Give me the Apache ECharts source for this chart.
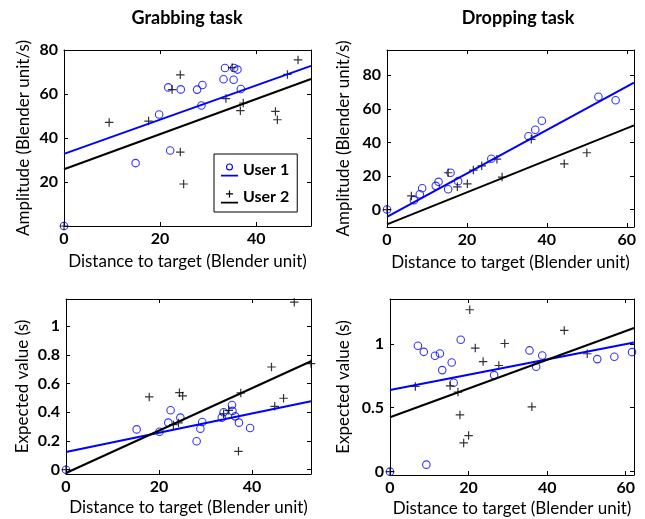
<!DOCTYPE html>
<html>
<head>
<meta charset="utf-8">
<script src="https://cdn.jsdelivr.net/npm/echarts@6/dist/echarts.min.js"></script>
<style>
html,body{margin:0;padding:0;background:#fff;}
#chart{width:645px;height:519px;}
</style>
</head>
<body>
<div id="chart"></div>
<script>
// ---------- Data ----------
// Panel A: Grabbing task, amplitude
const grabAmpU1X = [0, 14.9, 19.8, 21.7, 22.1, 24.3, 27.7, 28.8, 28.6, 33.2, 33.5, 35.3, 35.4, 36.1, 36.8];
const grabAmpU1Y = [0, 28.6, 50.7, 63.0, 34.3, 62.1, 62.0, 64.1, 54.8, 66.7, 71.8, 66.5, 71.8, 71.1, 62.3];
const grabAmpU2X = [0, 9.4, 17.6, 22.5, 24.2, 24.2, 24.9, 33.7, 35.0, 36.7, 37.3, 44.0, 44.4, 46.5, 48.7];
const grabAmpU2Y = [0, 47.1, 47.7, 62.0, 68.7, 33.6, 19.1, 57.9, 72.0, 52.4, 55.9, 52.1, 48.3, 68.9, 75.5];
const grabAmpFitU1 = [[0, 32.8], [51.4, 72.8]];
const grabAmpFitU2 = [[0, 25.8], [51.4, 66.8]];

// Panel B: Dropping task, amplitude
const dropAmpU1X = [0, 6.75, 8.2, 8.8, 12.2, 12.9, 15.3, 15.9, 17.8, 26.1, 35.4, 37.1, 38.75, 52.9, 57.2];
const dropAmpU1Y = [0, 5.6, 9.1, 12.7, 14.1, 16.5, 12.1, 21.9, 16.9, 30.2, 43.6, 47.5, 52.9, 67.2, 65.1];
const dropAmpU2X = [0, 6.1, 15.3, 17.6, 20.1, 21.6, 23.7, 27.5, 28.8, 36.1, 44.35, 50.0];
const dropAmpU2Y = [0, 8.1, 21.9, 13.5, 15.3, 23.5, 26.0, 30.0, 19.3, 41.8, 27.2, 33.8];
const dropAmpFitU1 = [[0, -4.4], [61.8, 75.6]];
const dropAmpFitU2 = [[0, -8.8], [61.8, 50.1]];

// Panel C: Grabbing task, expected value
const grabExpU1X = [0, 15.2, 20.1, 22.0, 22.5, 24.6, 28.1, 28.9, 29.3, 33.5, 33.9, 35.7, 35.8, 36.4, 37.2, 39.6];
const grabExpU1Y = [0, 0.281, 0.265, 0.328, 0.414, 0.363, 0.198, 0.286, 0.333, 0.363, 0.400, 0.451, 0.41, 0.372, 0.328, 0.291];
const grabExpU2X = [0, 17.9, 23.1, 24.2, 24.4, 25.1, 33.9, 35.0, 37.1, 37.6, 44.2, 44.9, 46.8, 49.1, 52.7];
const grabExpU2Y = [0, 0.507, 0.314, 0.326, 0.537, 0.514, 0.39, 0.414, 0.128, 0.535, 0.716, 0.442, 0.498, 1.168, 0.74];
const grabExpFitU1 = [[0, 0.123], [52.7, 0.477]];
const grabExpFitU2 = [[0, -0.023], [52.7, 0.756]];

// Panel D: Dropping task, expected value
const dropExpU1X = [0, 7.1, 8.6, 9.25, 11.45, 12.7, 13.3, 15.7, 16.2, 18.0, 26.5, 35.5, 37.2, 38.75, 52.75, 57.1, 61.6];
const dropExpU1Y = [0, 0.984, 0.937, 0.055, 0.906, 0.924, 0.794, 0.854, 0.695, 1.031, 0.755, 0.948, 0.82, 0.908, 0.88, 0.898, 0.935];
const dropExpU2X = [0, 6.45, 15.3, 17.3, 17.8, 18.75, 20.0, 20.3, 21.7, 23.7, 27.7, 29.2, 36.1, 44.35, 50.2];
const dropExpU2Y = [0, 0.666, 0.671, 0.622, 0.444, 0.225, 0.282, 1.266, 0.966, 0.861, 0.83, 1.002, 0.507, 1.104, 0.922];
const dropExpFitU1 = [[0, 0.638], [62.1, 1.01]];
const dropExpFitU2 = [[0, 0.426], [62.1, 1.123]];

// Axis ticks / labels
const xTicksGrab = [0, 20, 40];
const xTicksDrop = [0, 20, 40, 60];
const yTicksGrabAmp = [0, 20, 40, 60, 80];
const yLabelsGrabAmp = [20, 40, 60, 80];
const yTicksDropAmp = [0, 20, 40, 60, 80];
const yTicksGrabExp = [0, 0.2, 0.4, 0.6, 0.8, 1];
const yTicksDropExp = [0, 0.5, 1];

const titles = ['Grabbing task', 'Dropping task'];
const xName = 'Distance to target (Blender unit)';
const yNameAmp = 'Amplitude (Blender unit/s)';
const yNameExp = 'Expected value (s)';
const userNames = ['User 1', 'User 2'];

// ---------- Styling / layout ----------
const FONT = 'Lato';
const BLUE = '#0000ff';
const BLACK = '#000000';
const CROSS = 'path://M5,0L5,10M0,5L10,5';
// legend icons: marker drawn above a short line segment
const ICON_U1 = 'path://M5,4A3.5,3.5,0,1,1,12,4A3.5,3.5,0,1,1,5,4ZM6.1,4A2.4,2.4,0,1,0,10.9,4A2.4,2.4,0,1,0,6.1,4ZM0,11.8L17,11.8L17,13.6L0,13.6Z';
const ICON_U2 = 'path://M7.9,0.5L9.1,0.5L9.1,7.5L7.9,7.5ZM5,3.4L12,3.4L12,4.6L5,4.6ZM0,11.8L17,11.8L17,13.6L0,13.6Z';

const grids = [
  {left: 64, top: 50, width: 247, height: 176},
  {left: 387, top: 50, width: 247, height: 177},
  {left: 66, top: 299, width: 245, height: 175},
  {left: 390, top: 299, width: 244, height: 176}
];

const panels = [
  {xMax: 51.4, yMin: 0, yMax: 80, xTicks: xTicksGrab, yTicks: yTicksGrabAmp, yLabels: yLabelsGrabAmp, yName: yNameAmp, xGap: 27, yGap: 32,
   u1x: grabAmpU1X, u1y: grabAmpU1Y, u2x: grabAmpU2X, u2y: grabAmpU2Y, f1: grabAmpFitU1, f2: grabAmpFitU2},
  {xMax: 61.8, yMin: -10.4, yMax: 95, xTicks: xTicksDrop, yTicks: yTicksDropAmp, yLabels: yTicksDropAmp, yName: yNameAmp, xGap: 27, yGap: 35,
   u1x: dropAmpU1X, u1y: dropAmpU1Y, u2x: dropAmpU2X, u2y: dropAmpU2Y, f1: dropAmpFitU1, f2: dropAmpFitU2},
  {xMax: 52.7, yMin: -0.03, yMax: 1.19, xTicks: xTicksGrab, yTicks: yTicksGrabExp, yLabels: yTicksGrabExp, yName: yNameExp, xGap: 25, yGap: 35,
   u1x: grabExpU1X, u1y: grabExpU1Y, u2x: grabExpU2X, u2y: grabExpU2Y, f1: grabExpFitU1, f2: grabExpFitU2},
  {xMax: 62.1, yMin: -0.026, yMax: 1.35, xTicks: xTicksDrop, yTicks: yTicksDropExp, yLabels: yTicksDropExp, yName: yNameExp, xGap: 25, yGap: 38,
   u1x: dropExpU1X, u1y: dropExpU1Y, u2x: dropExpU2X, u2y: dropExpU2Y, f1: dropExpFitU1, f2: dropExpFitU2}
];

const lineAxis = {show: true, onZero: false, lineStyle: {color: BLACK, width: 1}};
const labelStyle = {fontFamily: FONT, fontWeight: 'bold', fontSize: 16, color: BLACK};
const nameStyle = {fontFamily: FONT, fontSize: 17, color: BLACK};

const xAxes = [], yAxes = [], series = [];
// bottom x axes (0..3) and left y axes (0..3)
panels.forEach((p, i) => {
  xAxes.push({
    type: 'value', gridIndex: i, min: 0, max: p.xMax, position: 'bottom',
    name: xName, nameLocation: 'middle', nameGap: p.xGap, nameTextStyle: nameStyle,
    axisLine: lineAxis,
    axisTick: {show: true, inside: true, length: 4, customValues: p.xTicks, lineStyle: {color: BLACK}},
    axisLabel: Object.assign({customValues: p.xTicks, margin: 5}, labelStyle),
    splitLine: {show: false}
  });
  yAxes.push({
    type: 'value', gridIndex: i, min: p.yMin, max: p.yMax, position: 'left',
    name: p.yName, nameLocation: 'middle', nameGap: p.yGap, nameRotate: 90, nameTextStyle: nameStyle,
    axisLine: lineAxis,
    axisTick: {show: true, inside: true, length: 4, customValues: p.yTicks, lineStyle: {color: BLACK}},
    axisLabel: Object.assign({customValues: p.yLabels, margin: 6}, labelStyle),
    splitLine: {show: false}
  });
});
// mirrored top x axes (4..7) and right y axes (4..7)
panels.forEach((p, i) => {
  xAxes.push({
    type: 'value', gridIndex: i, min: 0, max: p.xMax, position: 'top',
    axisLine: lineAxis,
    axisTick: {show: true, inside: true, length: 4, customValues: p.xTicks, lineStyle: {color: BLACK}},
    axisLabel: {show: false}, splitLine: {show: false}
  });
  yAxes.push({
    type: 'value', gridIndex: i, min: p.yMin, max: p.yMax, position: 'right',
    axisLine: lineAxis,
    axisTick: {show: true, inside: true, length: 4, customValues: p.yTicks, lineStyle: {color: BLACK}},
    axisLabel: {show: false}, splitLine: {show: false}
  });
});

const zip = (xs, ys) => xs.map((x, k) => [x, ys[k]]);

panels.forEach((p, i) => {
  series.push({
    type: 'line', name: userNames[0], xAxisIndex: i, yAxisIndex: i, data: p.f1,
    symbol: 'emptyCircle', symbolSize: 8, showSymbol: false, clip: true, z: 4,
    lineStyle: {color: BLUE, width: 2}, itemStyle: {color: BLUE},
    silent: true, animation: false
  });
  series.push({
    type: 'line', name: userNames[1], xAxisIndex: i, yAxisIndex: i, data: p.f2,
    symbol: CROSS, symbolSize: 9, showSymbol: false, clip: true, z: 4,
    lineStyle: {color: BLACK, width: 2}, itemStyle: {color: BLACK},
    silent: true, animation: false
  });
  series.push({
    type: 'scatter', name: userNames[0] + ' data', xAxisIndex: i, yAxisIndex: i, data: zip(p.u1x, p.u1y),
    symbol: 'circle', symbolSize: 7.5, clip: false, z: 3,
    itemStyle: {color: 'rgba(0,0,0,0)', borderColor: BLUE, borderWidth: 1.1},
    silent: true, animation: false
  });
  series.push({
    type: 'scatter', name: userNames[1] + ' data', xAxisIndex: i, yAxisIndex: i, data: zip(p.u2x, p.u2y),
    symbol: CROSS, symbolSize: 8.5, clip: false, z: 3,
    itemStyle: {color: 'rgba(0,0,0,0)', borderColor: BLACK, borderWidth: 1.2},
    silent: true, animation: false
  });
});

const chart = echarts.init(document.getElementById('chart'), null, {renderer: 'canvas'});
chart.setOption({
  backgroundColor: '#fff',
  animation: false,
  grid: grids,
  xAxis: xAxes,
  yAxis: yAxes,
  legend: {
    data: [
      {name: userNames[0], icon: ICON_U1, itemStyle: {color: BLUE, borderWidth: 0}},
      {name: userNames[1], icon: ICON_U2, itemStyle: {color: BLACK, borderWidth: 0}}
    ],
    orient: 'vertical', left: 214, top: 154,
    backgroundColor: '#fff', borderColor: BLACK, borderWidth: 1,
    padding: [8, 8, 7, 7], itemGap: 11, itemWidth: 17, itemHeight: 14,
    textStyle: {fontFamily: FONT, fontWeight: 'bold', fontSize: 16, color: BLACK},
    selectedMode: false
  },
  graphic: [
    {type: 'text', x: 187, y: 18, style: {text: titles[0], align: 'center', verticalAlign: 'middle', fontFamily: FONT, fontWeight: 'bold', fontSize: 18, fill: BLACK}},
    {type: 'text', x: 518, y: 18, style: {text: titles[1], align: 'center', verticalAlign: 'middle', fontFamily: FONT, fontWeight: 'bold', fontSize: 18, fill: BLACK}}
  ],
  series: series
});
</script>
</body>
</html>
